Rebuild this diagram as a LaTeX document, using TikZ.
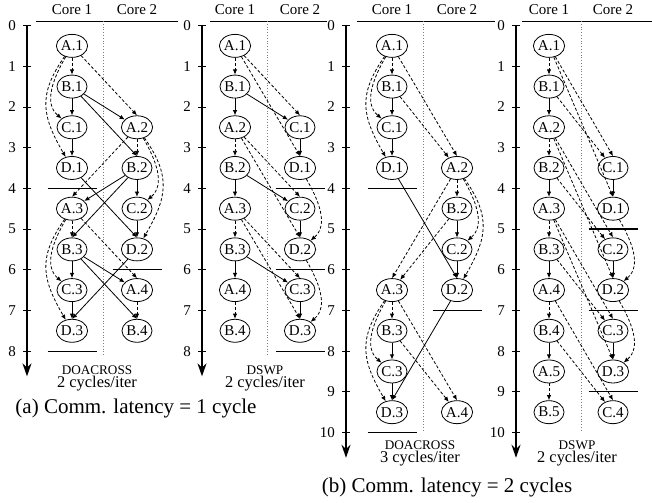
\documentclass[tikz,border=0pt]{standalone}
\usepackage{fontspec}
\setmainfont{Liberation Serif}
\usetikzlibrary{arrows.meta,shapes.geometric}

\begin{document}
\begin{tikzpicture}[x=0.5pt,y=-20.35pt,
    op/.style={draw,ellipse,inner sep=0pt,minimum width=15pt,
      minimum height=11.5pt,font=\fontsize{7.5}{9}\selectfont},
    flow/.style={-{Latex[length=2.6pt,width=2.2pt]}},
    sync/.style={flow,dash pattern=on 1.5pt off 1pt},
    lnear/.style={out=240,in=140},
    lfar/.style={out=235,in=120,looseness=1.2},
    rnear/.style={out=300,in=40},
    rfar/.style={out=305,in=60,looseness=1.2},
    timeline/.style={line width=0.8pt,-{Stealth[length=6.5pt,width=4.5pt]}},
    cores/.style={densely dotted,gray},
    brk/.style={line width=0.6pt},
    small/.style={font=\fontsize{7.5}{9}\selectfont},
    scheme/.style={inner sep=0pt,font=\fontsize{6.6}{8}\selectfont},
    rate/.style={inner sep=0pt,font=\fontsize{8.2}{10}\selectfont},
    caption/.style={font=\fontsize{10.5}{12}\selectfont}]
  \useasboundingbox (0,-0.627) rectangle (652,11.708);
  % time axes
  \foreach \x/\n in {27/8,202/8,346/10,516/10}{
    \draw[timeline] (\x,0) -- (\x,\n+0.62);
    \foreach \y in {0,...,\n}{
      \draw (\x-4,\y) -- (\x+4,\y) node[left,small] (tk\x-\y) at (\x-4,\y) {\y};}}
  % core headers
  \foreach \l/\r/\a/\b/\s/\e in {36/178/72/137/103/8.14,210/327/235/300/267/8.14,
    357/495/392/457/423/10,522/652/549/613/581/10}{
    \draw (\l,-0.11) -- (\r,-0.11);
    \draw[cores] (\s,-0.11) -- (\s,\e);
    \node[small] (hd\l-1) at (\a,-0.38) {Core 1};
    \node[small] (hd\l-2) at (\b,-0.38) {Core 2};}

  % (a) DOACROSS
  \foreach \s/\i/\x/\y in {A/1/72/0.5,B/1/72/1.5,C/1/72/2.5,D/1/72/3.5,
    A/2/137/2.5,B/2/137/3.5,C/2/137/4.5,D/2/137/5.5,
    A/3/72/4.5,B/3/72/5.5,C/3/72/6.5,D/3/72/7.5,A/4/137/6.5,B/4/137/7.5}
    \node[op] (a1-\s\i) at (\x,\y) {\s.\i};
  \foreach \i in {1,2,3}{
    \draw[sync] (a1-A\i) -- (a1-B\i);
    \draw[flow] (a1-B\i) -- (a1-C\i);
    \draw[flow] (a1-C\i) -- (a1-D\i);}
  \draw[sync] (a1-A4) -- (a1-B4);
  \foreach \i in {1,3}{
    \draw[sync] (a1-A\i) to[lnear] (a1-C\i);
    \draw[sync] (a1-A\i) to[lfar] (a1-D\i);}
  \draw[sync] (a1-A2) to[rnear] (a1-C2);
  \draw[sync] (a1-A2) to[rfar] (a1-D2);
  \foreach \i [count=\j from 2] in {1,2,3}{
    \draw[sync] (a1-A\i) -- (a1-A\j.north);
    \draw[flow] (a1-B\i) -- (a1-A\j);
    \draw[flow] (a1-B\i) -- (a1-B\j.north);}
  \foreach \i [count=\j from 2] in {1,2}
    \draw[flow] (a1-D\i) -- (a1-D\j.north);
  \draw[brk] (47.5,4) -- (96.5,4) (112.5,6) -- (161.5,6) (47.5,8) -- (96.5,8);
  \node[scheme] (a1-name) at (97,8.47) {DOACROSS};
  \node[rate] (a1-rate) at (97,8.8) {2 cycles/iter};

  % (a) DSWP
  \foreach \i in {1,...,4}{
    \node[op] (a2-A\i) at (235,2*\i-1.5) {A.\i};
    \node[op] (a2-B\i) at (235,2*\i-0.5) {B.\i};}
  \foreach \i in {1,2,3}{
    \node[op] (a2-C\i) at (300,2*\i+0.5) {C.\i};
    \node[op] (a2-D\i) at (300,2*\i+1.5) {D.\i};}
  \foreach \i in {1,...,4}
    \draw[sync] (a2-A\i) -- (a2-B\i);
  \foreach \i [count=\j from 2] in {1,2,3}{
    \draw[flow] (a2-B\i) -- (a2-A\j);
    \draw[sync] (a2-A\i) -- (a2-C\i.north);
    \draw[sync] (a2-A\i) -- (a2-D\i.north);
    \draw[flow] (a2-B\i) -- (a2-C\i);
    \draw[flow] (a2-C\i) -- (a2-D\i);}
  \foreach \i [count=\j from 2] in {1,2}
    \draw[sync] (a2-D\i) to[rnear] (a2-D\j);
  \draw[brk] (275.5,4) -- (324.5,4) (275.5,6) -- (324.5,6) (275.5,8) -- (324.5,8);
  \node[scheme] (a2-name) at (265,8.47) {DSWP};
  \node[rate] (a2-rate) at (265,8.8) {2 cycles/iter};

  % (b) DOACROSS
  \foreach \s/\i/\x/\y in {A/1/392/0.5,B/1/392/1.5,C/1/392/2.5,D/1/392/3.5,
    A/2/457/3.5,B/2/457/4.5,C/2/457/5.5,D/2/457/6.5,
    A/3/392/6.5,B/3/392/7.5,C/3/392/8.5,D/3/392/9.5,A/4/457/9.5}
    \node[op] (b1-\s\i) at (\x,\y) {\s.\i};
  \foreach \i in {1,2,3}{
    \draw[sync] (b1-A\i) -- (b1-B\i);
    \draw[flow] (b1-B\i) -- (b1-C\i);
    \draw[flow] (b1-C\i) -- (b1-D\i);}
  \foreach \i in {1,3}{
    \draw[sync] (b1-A\i) to[lnear] (b1-C\i);
    \draw[sync] (b1-A\i) to[lfar] (b1-D\i);}
  \draw[sync] (b1-A2) to[rnear] (b1-C2);
  \draw[sync] (b1-A2) to[rfar] (b1-D2);
  \foreach \i [count=\j from 2] in {1,2,3}{
    \draw[sync] (b1-A\i) -- (b1-A\j.north);
    \draw[sync] (b1-B\i) -- (b1-A\j);}
  \foreach \i [count=\j from 2] in {1,2}
    \draw[flow] (b1-D\i) -- (b1-D\j.north);
  \draw[brk] (367.5,4) -- (416.5,4) (432.5,7) -- (481.5,7) (367.5,10) -- (416.5,10);
  \node[scheme] (b1-name) at (420,10.31) {DOACROSS};
  \node[rate] (b1-rate) at (420,10.65) {3 cycles/iter};

  % (b) DSWP
  \foreach \i in {1,...,5}{
    \node[op] (b2-A\i) at (549,2*\i-1.5) {A.\i};
    \node[op] (b2-B\i) at (549,2*\i-0.5) {B.\i};}
  \foreach \i in {1,...,4}
    \node[op] (b2-C\i) at (613,2*\i+1.5) {C.\i};
  \foreach \i in {1,2,3}
    \node[op] (b2-D\i) at (613,2*\i+2.5) {D.\i};
  \foreach \i in {1,...,5}
    \draw[sync] (b2-A\i) -- (b2-B\i);
  \foreach \i [count=\j from 2] in {1,...,4}{
    \draw[flow] (b2-B\i) -- (b2-A\j);
    \draw[sync] (b2-A\i) -- (b2-C\i.north);
    \draw[sync] (b2-B\i) -- (b2-C\i);}
  \foreach \i in {1,2,3}{
    \draw[sync] (b2-A\i) -- (b2-D\i.north);
    \draw[flow] (b2-C\i) -- (b2-D\i);}
  \foreach \i [count=\j from 2] in {1,2}
    \draw[sync] (b2-D\i) to[rnear] (b2-D\j);
  \draw[brk] (588.5,5) -- (637.5,5) (588.5,7) -- (637.5,7) (588.5,9) -- (637.5,9);
  \node[scheme] (b2-name) at (577,10.31) {DSWP};
  \node[rate] (b2-rate) at (577,10.65) {2 cycles/iter};

  \node[caption] (capa) at (136,9.40) {(a) Comm. latency = 1 cycle};
  \node[caption] (capb) at (447,11.36) {(b) Comm. latency = 2 cycles};
\end{tikzpicture}
\end{document}
